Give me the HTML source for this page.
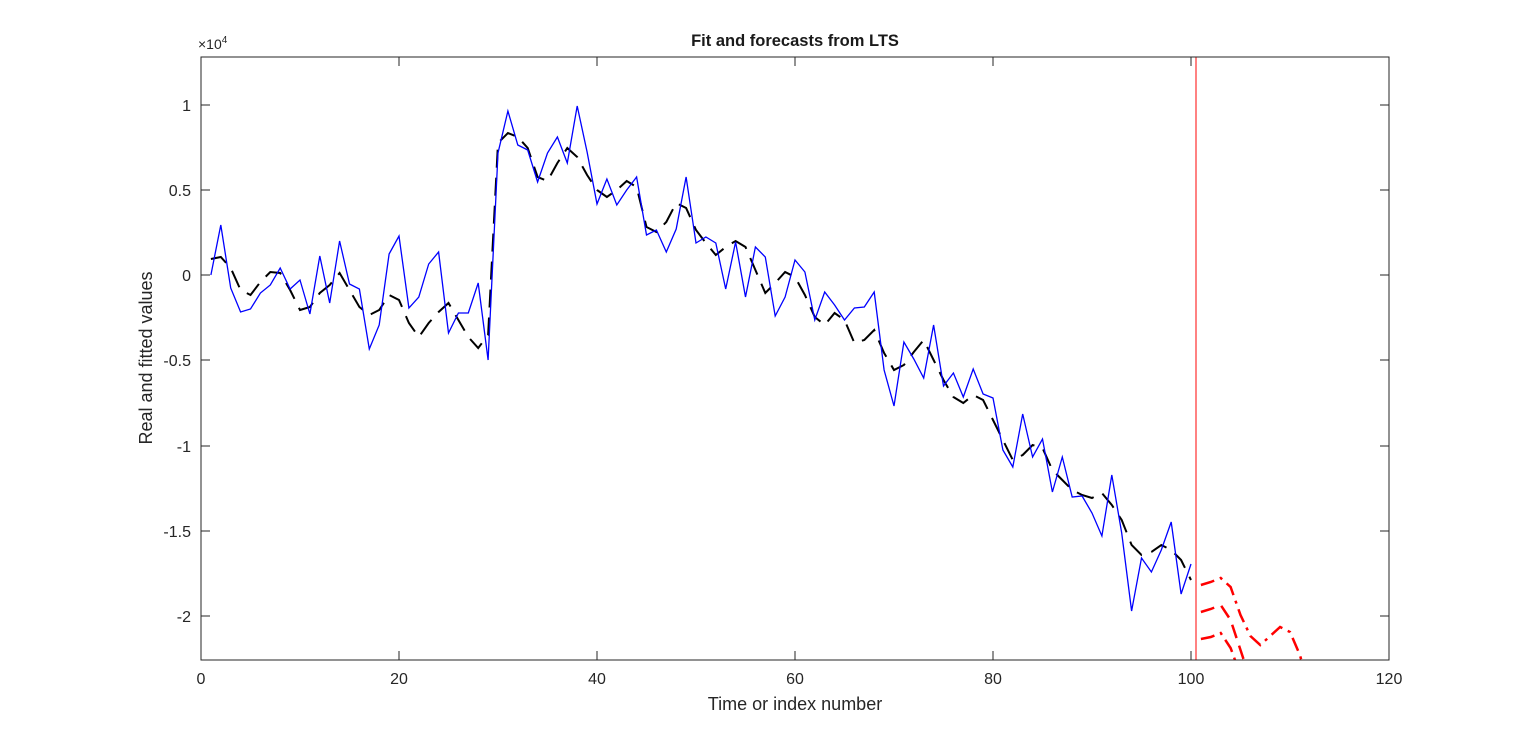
<!DOCTYPE html>
<html><head><meta charset="utf-8"><style>
html,body{margin:0;padding:0;background:#fff;}
svg{display:block;font-family:"Liberation Sans",Arial,sans-serif;}
</style></head><body>
<svg id="s" width="1536" height="744" xmlns="http://www.w3.org/2000/svg">
<defs><clipPath id="c"><rect x="201" y="57" width="1188" height="603"/></clipPath></defs>
<rect x="0" y="0" width="1536" height="744" fill="#fff"/>
<g id="plot" clip-path="url(#c)"></g>
<line x1="1196" y1="57" x2="1196" y2="660" stroke="#ff3030" stroke-width="1.2"/>
<rect x="201" y="57" width="1188" height="603" fill="none" stroke="#262626" stroke-width="1"/>
<g id="ticks" stroke="#262626" stroke-width="1"></g>
<g id="labels" font-size="16" fill="#262626"></g>
<text x="795" y="46" text-anchor="middle" font-size="16.5" font-weight="bold" fill="#1a1a1a">Fit and forecasts from LTS</text>
<text x="198" y="49" font-size="14" fill="#262626">×10<tspan dy="-6" font-size="10">4</tspan></text>
<text x="795" y="710" text-anchor="middle" font-size="18" fill="#262626">Time or index number</text>
<text transform="translate(152,358) rotate(-90)" text-anchor="middle" font-size="18" fill="#262626">Real and fitted values</text>
</svg>
<script>
var NS="http://www.w3.org/2000/svg";
function el(p,t,a,txt){var e=document.createElementNS(NS,t);for(var k in a)e.setAttribute(k,a[k]);if(txt!==undefined)e.textContent=txt;p.appendChild(e);return e;}
var blue=[275,225,288,312,309,293,285,268,289,280,314,256,303,241,284,289,349,325,254,236,308,297,264,252,333,313,313,283,360,153,111,145,150,182,153,137,163,106,152,204,179,205,190,177,235,230,252,229,177,243,237,243,289,242,297,247,257,316,297,260,272,320,292,305,320,308,307,292,370,406,342,359,378,325,386,373,397,369,394,398,450,467,414,457,439,492,457,497,496,513,536,475,533,611,558,572,550,522,594,564];
var black=[259,257,268,290,295,282,272,273,290,310,307,293,285,273,290,307,315,310,295,300,323,337,323,312,303,320,337,348,335,143,133,137,148,177,181,163,148,157,175,190,197,190,181,187,227,232,222,203,208,230,243,255,247,241,247,270,293,283,272,277,295,317,325,313,320,343,340,330,353,370,365,352,340,360,380,397,403,395,400,420,440,460,455,445,448,470,480,490,495,498,493,505,520,545,555,552,545,550,560,580];
var px=function(i){return 201+9.9*i;};
function path(arr,start){var d="";for(var i=0;i<arr.length;i++){d+=(i?"L":"M")+px(i+start).toFixed(1)+" "+arr[i];}return d;}
var g=document.getElementById("plot");
el(g,"path",{d:path(black,1),fill:"none",stroke:"#000","stroke-width":2,"stroke-dasharray":"18 10"});
el(g,"path",{d:path(blue,1),fill:"none",stroke:"#0000ff","stroke-width":1.3});
el(g,"path",{d:path([585,582,578,587,615,636,645,636,627,632,655,690],101),fill:"none",stroke:"#ff0000","stroke-width":2.5,"stroke-dasharray":"14 6 3 6"});
el(g,"path",{d:path([612,609,605,620,650,680,700],101),fill:"none",stroke:"#ff0000","stroke-width":2.5,"stroke-dasharray":"14 8"});
el(g,"path",{d:path([639,637,633,648,675,700],101),fill:"none",stroke:"#ff0000","stroke-width":2.5,"stroke-dasharray":"14 6 3 6"});
var t=document.getElementById("ticks"),L=document.getElementById("labels");
for(var v=0;v<=120;v+=20){var x=201+9.9*v;el(t,"line",{x1:x,y1:660,x2:x,y2:651});el(t,"line",{x1:x,y1:57,x2:x,y2:66});el(L,"text",{x:x,y:684,"text-anchor":"middle"},String(v));}
var yl=[["1",105],["0.5",190],["0",275],["-0.5",360],["-1",446],["-1.5",531],["-2",616]];
yl.forEach(function(a){el(t,"line",{x1:201,y1:a[1],x2:210,y2:a[1]});el(t,"line",{x1:1389,y1:a[1],x2:1380,y2:a[1]});el(L,"text",{x:191,y:a[1]+6,"text-anchor":"end"},a[0]);});
</script>
</body></html>
